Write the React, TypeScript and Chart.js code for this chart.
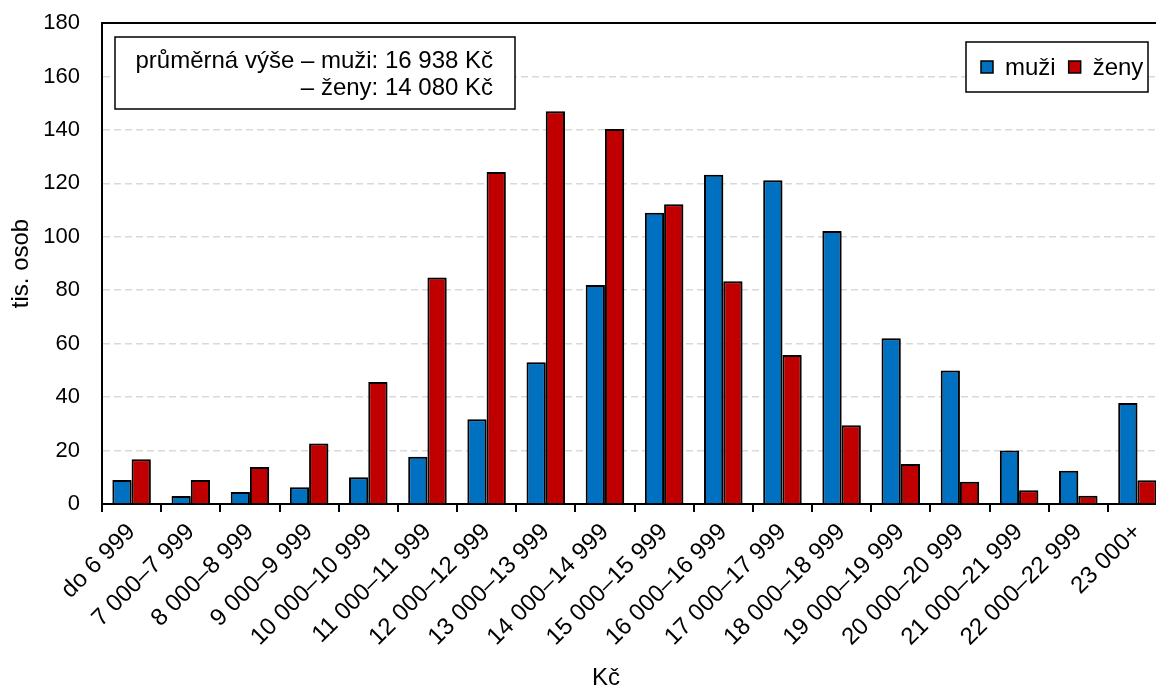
import React, { useEffect, useRef } from "react";
import { Chart, registerables } from "chart.js";

Chart.register(...registerables);

const categories = [
  "do 6 999",
  "7 000–7 999",
  "8 000–8 999",
  "9 000–9 999",
  "10 000–10 999",
  "11 000–11 999",
  "12 000–12 999",
  "13 000–13 999",
  "14 000–14 999",
  "15 000–15 999",
  "16 000–16 999",
  "17 000–17 999",
  "18 000–18 999",
  "19 000–19 999",
  "20 000–20 999",
  "21 000–21 999",
  "22 000–22 999",
  "23 000+",
];

const muzi = [9, 3, 4.5, 6.3, 10, 17.7, 31.7, 53, 82, 109, 123.2, 121.2, 102.2, 62, 50, 20, 12.4, 37.8];
const zeny = [16.7, 9, 13.8, 22.6, 45.7, 84.8, 124.2, 147, 140.3, 112.2, 83.4, 55.8, 29.5, 15, 8.3, 5.1, 3.1, 8.9];

const seriesNames = ["muži", "ženy"];
const seriesColors = ["#0070C0", "#C00000"];
const noteLines = ["průměrná výše – muži: 16 938 Kč", "– ženy: 14 080 Kč"];
const xTitle = "Kč";
const yTitle = "tis. osob";
const yTicks = { min: 0, max: 180, step: 20 };

const FONT = "'Liberation Sans', Arial, sans-serif";

const framePlugin = {
  id: "frame",
  beforeDatasetsDraw(chart: any) {
    const ctx = chart.ctx;
    ctx.save();
    ctx.shadowColor = "rgba(0,0,0,0.35)";
    ctx.shadowBlur = 2;
    ctx.shadowOffsetX = 2;
    ctx.shadowOffsetY = 1;
  },
  afterDatasetsDraw(chart: any) {
    chart.ctx.restore();
  },
  afterDraw(chart: any) {
    const { ctx, chartArea } = chart;
    ctx.save();
    // plot frame
    ctx.strokeStyle = "#000";
    ctx.lineWidth = 2;
    ctx.beginPath();
    ctx.moveTo(chartArea.left, chartArea.bottom);
    ctx.lineTo(chartArea.left, chartArea.top);
    ctx.lineTo(chartArea.right, chartArea.top);
    ctx.lineTo(chartArea.right, chartArea.bottom);
    ctx.stroke();

    // note box
    const bx = chartArea.left + 13;
    const by = chartArea.top + 14;
    const bw = 400;
    const bh = 72;
    ctx.fillStyle = "#fff";
    ctx.fillRect(bx, by, bw, bh);
    ctx.lineWidth = 1.5;
    ctx.strokeRect(bx, by, bw, bh);
    ctx.fillStyle = "#000";
    ctx.font = `24px ${FONT}`;
    ctx.textAlign = "right";
    ctx.textBaseline = "middle";
    ctx.fillText(noteLines[0], bx + bw - 22, by + 24);
    ctx.fillText(noteLines[1], bx + bw - 22, by + 51);

    // legend box
    const lx = 966;
    const ly = 42;
    const lw = 182;
    const lh = 50;
    ctx.fillStyle = "#fff";
    ctx.fillRect(lx, ly, lw, lh);
    ctx.strokeStyle = "#000";
    ctx.lineWidth = 1.5;
    ctx.strokeRect(lx, ly, lw, lh);
    ctx.textAlign = "left";
    const cy = ly + lh / 2;
    let x = lx + 15;
    chart.data.datasets.forEach((ds: any) => {
      ctx.fillStyle = ds.backgroundColor;
      ctx.fillRect(x, cy - 6, 12, 12);
      ctx.lineWidth = 1.5;
      ctx.strokeStyle = "#000";
      ctx.strokeRect(x, cy - 6, 12, 12);
      ctx.fillStyle = "#000";
      ctx.fillText(ds.label, x + 24, cy + 1);
      x += 24 + ctx.measureText(ds.label).width + 13;
    });

    // x axis title
    ctx.textAlign = "center";
    ctx.fillText(xTitle, 606, 678);
    ctx.restore();
  },
};

export default function App() {
  const ref = useRef<HTMLCanvasElement>(null);
  useEffect(() => {
    if (!ref.current) return;
    const chart = new Chart(ref.current, {
      type: "bar",
      data: {
        labels: categories,
        datasets: [
          {
            label: seriesNames[0],
            data: muzi,
            backgroundColor: seriesColors[0],
            borderColor: "#000",
            borderWidth: 2,
            categoryPercentage: 0.65,
            barPercentage: 1,
          },
          {
            label: seriesNames[1],
            data: zeny,
            backgroundColor: seriesColors[1],
            borderColor: "#000",
            borderWidth: 2,
            categoryPercentage: 0.65,
            barPercentage: 1,
          },
        ],
      },
      options: {
        responsive: false,
        animation: false,
        layout: { padding: { top: 23, right: 5, left: 0, bottom: 0 } },
        plugins: {
          legend: { display: false },
          tooltip: { enabled: false },
        },
        scales: {
          x: {
            grid: {
              display: true,
              drawOnChartArea: false,
              drawTicks: true,
              tickLength: 8,
              color: "#000",
              lineWidth: 2,
              offset: true,
            },
            border: { display: true, color: "#000", width: 2 },
            ticks: {
              color: "#000",
              font: { family: FONT, size: 24 },
              maxRotation: 45,
              minRotation: 45,
              autoSkip: false,
              padding: 6,
            },
            afterFit: (scale: any) => {
              scale.height = 185;
              scale.paddingTop = 0;
              scale.paddingBottom = 0;
            },
          },
          y: {
            min: yTicks.min,
            max: yTicks.max,
            grid: {
              color: (c: any) => (c.tick && c.tick.value === 0 ? "rgba(0,0,0,0)" : "#d9d9d9"),
              lineWidth: 1.5,
              drawTicks: false,
            },
            border: { display: true, color: "#000", width: 2, dash: [7, 4] },
            ticks: {
              stepSize: yTicks.step,
              color: "#000",
              font: { family: FONT, size: 22 },
              padding: 22,
            },
            title: {
              display: true,
              text: yTitle,
              color: "#000",
              font: { family: FONT, size: 24 },
              padding: { top: 7, bottom: 0 },
            },
            afterFit: (scale: any) => {
              scale.width = 102;
              scale.paddingTop = 0;
              scale.paddingBottom = 0;
            },
          },
        },
      },
      plugins: [framePlugin],
    });
    return () => chart.destroy();
  }, []);
  return (
    <div
      style={{
        position: "fixed",
        left: 0,
        top: 0,
        width: 1156,
        height: 689,
        overflow: "hidden",
        background: "#fff",
      }}
    >
      <canvas ref={ref} width={1172} height={689} style={{ display: "block" }} />
    </div>
  );
}
